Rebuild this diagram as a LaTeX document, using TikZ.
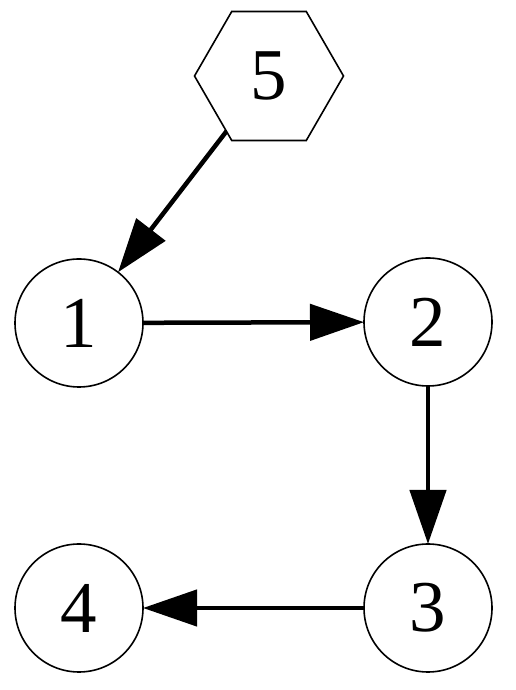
\documentclass[tikz,border=0pt]{standalone}
\usepackage{fontspec}
\setmainfont{Liberation Serif}
\usetikzlibrary{arrows.meta, shapes.geometric}

\begin{document}
\begin{tikzpicture}[x=1pt, y=1pt, >={Triangle[length=54pt, width=36pt]},
    state/.style={circle, draw, line width=1.6pt, minimum size=128pt, inner sep=0pt, outer sep=0pt, font=\fontsize{73}{78}\selectfont},
    source/.style={regular polygon, regular polygon sides=6, draw, line width=1.6pt, minimum size=149pt, inner sep=0pt, outer sep=0pt, font=\fontsize{73}{78}\selectfont},
    edge/.style={->, line width=4.5pt}]
    \useasboundingbox (0,0) rectangle (516,690);

    % Nodes
    \node[source] (n5) at (269,614) {5};
    \node[state] (n1) at (79,367) {1};
    \node[state] (n2) at (428,368) {2};
    \node[state] (n3) at (428,82) {3};
    \node[state] (n4) at (79,82) {4};

    % Edges
    \draw[edge] (n5) -- (n1);
    \draw[edge] (n1) -- (n2);
    \draw[edge] (n2) -- (n3);
    \draw[edge] (n3) -- (n4);

\end{tikzpicture}
\end{document}
